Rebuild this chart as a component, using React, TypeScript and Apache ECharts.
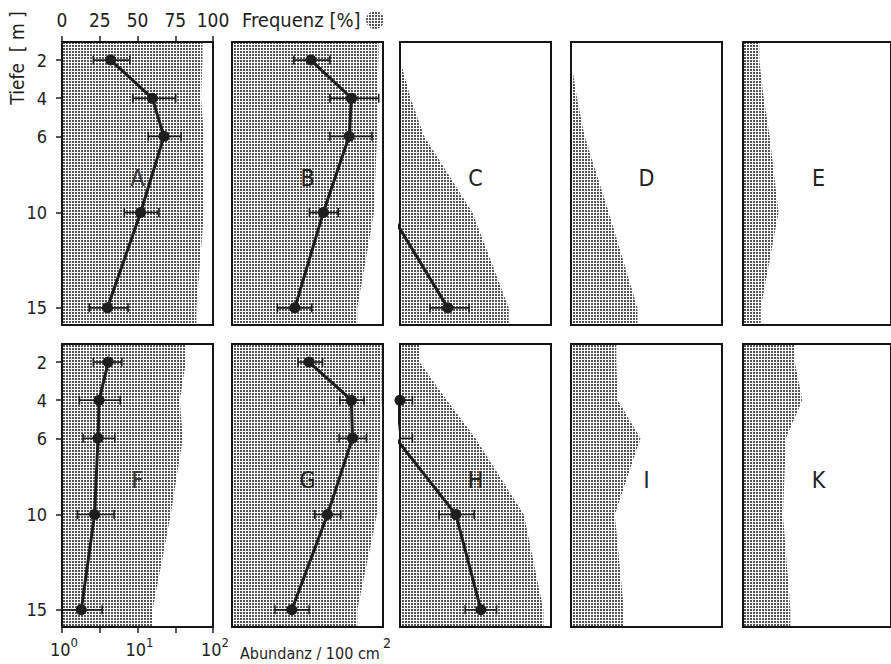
import React, { useEffect, useRef } from 'react';
import * as echarts from 'echarts';

// ---------------- data ----------------
const depths = [2, 4, 6, 10, 15]; // Tiefe [m]
const depthTicks = [2, 4, 6, 10, 15];
const freqTicks = [0, 25, 50, 75, 100];
const abundanceTicks = [1, 10, 100];
const abundanceMinorTicks = [1, 3.1623, 10, 31.623, 100];
const panelLabels = ['A', 'B', 'C', 'D', 'E', 'F', 'G', 'H', 'I', 'K'];

// Frequenz [%] per depth
const freqA = [93, 92, 94, 94, 89];
const freqB = [97, 96, 96, 94, 83];
const freqC = [0, 7, 16, 48, 72];
const freqD = [0, 4, 9, 25, 44];
const freqE = [11, 14, 18, 24, 12];
const freqF = [82, 78, 80, 72, 60];
const freqG = [99, 99, 98, 96, 83];
const freqH = [13, 31, 50, 82, 95];
const freqI = [30, 31, 46, 29, 35];
const freqK = [35, 40, 29, 27, 32];

// Abundanz / 100 cm² (mean, lower and upper error)
const abunA = [4.4, 15.7, 22.4, 11, 4.0];
const lowA = [2.6, 8.7, 13.9, 6.7, 2.3];
const highA = [7.9, 32, 37.8, 19.2, 7.5];
const abunB = [11.1, 38.3, 35.6, 16.2, 6.8];
const lowB = [6.6, 19.8, 19.8, 10.6, 4.0];
const highB = [19.8, 87.7, 71.6, 25.5, 11.4];
const abunC = [null, null, null, 0.74, 4.3];
const lowC = [null, null, null, null, 2.5];
const highC = [null, null, null, null, 8.2];
const abunF = [4.1, 3.1, 3.0, 2.7, 1.8];
const lowF = [2.6, 1.7, 1.9, 1.6, 1.0];
const highF = [6.2, 5.9, 5.0, 4.9, 3.4];
const abunG = [10.5, 38.2, 39.4, 18.4, 6.2];
const lowG = [7.5, 26.8, 26.2, 12.5, 3.7];
const highG = [15.8, 56, 60.3, 27.6, 10.5];
const abunH = [null, 1.0, 0.88, 5.5, 11.8];
const lowH = [null, 0.7, 0.6, 3.3, 7.3];
const highH = [null, 1.46, 1.46, 9.6, 19];

type Panel = {
  label: string;
  freq: number[];
  abun?: (number | null)[];
  low?: (number | null)[];
  high?: (number | null)[];
};

const panels: Panel[] = [
  { label: panelLabels[0], freq: freqA, abun: abunA, low: lowA, high: highA },
  { label: panelLabels[1], freq: freqB, abun: abunB, low: lowB, high: highB },
  { label: panelLabels[2], freq: freqC, abun: abunC, low: lowC, high: highC },
  { label: panelLabels[3], freq: freqD },
  { label: panelLabels[4], freq: freqE },
  { label: panelLabels[5], freq: freqF, abun: abunF, low: lowF, high: highF },
  { label: panelLabels[6], freq: freqG, abun: abunG, low: lowG, high: highG },
  { label: panelLabels[7], freq: freqH, abun: abunH, low: lowH, high: highH },
  { label: panelLabels[8], freq: freqI },
  { label: panelLabels[9], freq: freqK },
];

// ---------------- layout ----------------
const FONT = '"Liberation Sans Narrow", "DejaVu Sans Condensed", Roboto, sans-serif';
const INK = '#1e1e1e';
const COL_LEFTS = [62, 232, 400, 571, 743];
const ROW_TOPS = [42, 344];
const PANEL_W = 151;
const PANEL_H = 283;
const Y_MIN = 1.05;
const Y_MAX = 15.9;
const LETTER_DEPTH = 8.2;

function makeStipple(): string {
  const c = document.createElement('canvas');
  c.width = 3;
  c.height = 3;
  const ctx = c.getContext('2d')!;
  ctx.fillStyle = '#ffffff';
  ctx.fillRect(0, 0, 3, 3);
  ctx.fillStyle = '#555555';
  ctx.fillRect(0, 0, 2, 2);
  return c.toDataURL();
}

export default function App() {
  const ref = useRef<HTMLDivElement>(null);

  useEffect(() => {
    if (!ref.current) return;
    const chart = echarts.init(ref.current, undefined, { renderer: 'svg' });
    const stipple = { image: makeStipple(), repeat: 'repeat', imageWidth: 3, imageHeight: 3 } as any;

    const grids: any[] = [];
    const xAxes: any[] = [];
    const yAxes: any[] = [];
    const series: any[] = [];
    const graphics: any[] = [];

    panels.forEach((p, i) => {
      const row = i < 5 ? 0 : 1;
      const col = i % 5;
      const isTopAxis = i === 0;
      const isBottomAxis = i === 5;
      const isLeftAxis = col === 0;
      const left = COL_LEFTS[col];
      const top = ROW_TOPS[row];

      grids.push({
        left, top, width: PANEL_W, height: PANEL_H,
        show: true, borderColor: '#151515', borderWidth: 2,
        backgroundColor: 'rgba(0,0,0,0)', z: 10,
      });

      xAxes.push({
        gridIndex: i, type: 'value', position: 'top', min: 0, max: 100, interval: 25,
        axisLine: { show: false }, splitLine: { show: false },
        axisTick: { show: isTopAxis, length: 6, lineStyle: { color: INK, width: 1.5 } },
        axisLabel: {
          show: isTopAxis, margin: 12, fontSize: 19, lineHeight: 20, color: INK, fontFamily: FONT,
          customValues: freqTicks,
        },
        z: 11,
      });
      xAxes.push({
        gridIndex: i, type: 'log', logBase: 10, min: 1, max: 100, position: 'bottom',
        axisLine: { show: false }, splitLine: { show: false }, minorTick: { show: false },
        axisTick: {
          show: isBottomAxis, length: 6, lineStyle: { color: INK, width: 1.5 },
          customValues: abundanceMinorTicks,
        },
        axisLabel: {
          show: isBottomAxis, margin: 9, customValues: abundanceTicks,
          formatter: (v: number) => `{b|10}{s|${Math.round(Math.log10(v))}}`,
          rich: {
            b: { fontSize: 18, fontFamily: FONT, color: INK, lineHeight: 22, padding: [0, 0, 0, 4] },
            s: { fontSize: 13, fontFamily: FONT, color: INK, padding: [0, 0, 14, 0] },
          },
        },
        z: 11,
      });
      yAxes.push({
        gridIndex: i, type: 'value', inverse: true, min: Y_MIN, max: Y_MAX,
        axisLine: { show: false }, splitLine: { show: false },
        axisTick: { show: isLeftAxis, length: 6, lineStyle: { color: INK, width: 1.5 }, customValues: depthTicks },
        axisLabel: {
          show: isLeftAxis, margin: 15, fontSize: 18, color: INK, fontFamily: FONT,
          customValues: depthTicks,
        },
        z: 11,
      });

      const freq = p.freq;
      series.push({
        type: 'custom', xAxisIndex: 2 * i, yAxisIndex: i, clip: true, z: 1, silent: true,
        encode: { x: 0, y: 1 },
        data: freq.map((f, k) => [f, depths[k]]),
        renderItem: (params: any, api: any) => {
          if (params.dataIndex !== 0) return null;
          const pts = [
            api.coord([0, Y_MIN]),
            api.coord([freq[0], Y_MIN]),
            ...freq.map((f, k) => api.coord([f, depths[k]])),
            api.coord([freq[freq.length - 1], Y_MAX]),
            api.coord([0, Y_MAX]),
          ];
          return { type: 'polygon', shape: { points: pts }, style: { fill: stipple, stroke: 'none' } };
        },
      });

      if (p.abun) {
        const lineData: any[] = [];
        const errData: any[] = [];
        p.abun.forEach((a, k) => {
          if (a != null) lineData.push([a, depths[k]]);
          const lo = p.low![k];
          const hi = p.high![k];
          if (lo != null && hi != null) errData.push([lo, hi, depths[k]]);
        });
        series.push({
          type: 'custom', xAxisIndex: 2 * i + 1, yAxisIndex: i, clip: true, z: 3, silent: true,
          encode: { x: [0, 1], y: 2 },
          data: errData,
          renderItem: (_params: any, api: any) => {
            const a = api.coord([api.value(0), api.value(2)]);
            const b = api.coord([api.value(1), api.value(2)]);
            const cap = 4.5;
            const st = { stroke: INK, lineWidth: 1.6 };
            return {
              type: 'group',
              children: [
                { type: 'line', shape: { x1: a[0], y1: a[1], x2: b[0], y2: b[1] }, style: st },
                { type: 'line', shape: { x1: a[0], y1: a[1] - cap, x2: a[0], y2: a[1] + cap }, style: st },
                { type: 'line', shape: { x1: b[0], y1: b[1] - cap, x2: b[0], y2: b[1] + cap }, style: st },
              ],
            };
          },
        });
        series.push({
          type: 'line', xAxisIndex: 2 * i + 1, yAxisIndex: i, clip: true, z: 4, silent: true,
          data: lineData,
          symbol: 'circle', symbolSize: 11, showAllSymbol: true,
          itemStyle: { color: INK },
          lineStyle: { color: INK, width: 3 },
        });
      }

      const letterY = top + ((LETTER_DEPTH - Y_MIN) / (Y_MAX - Y_MIN)) * PANEL_H;
      graphics.push({
        type: 'text', x: left + PANEL_W / 2, y: letterY, z: 20,
        style: {
          text: p.label, fontSize: 23, fontFamily: FONT,
          fill: col === 0 ? '#3a3a3a' : '#222',
          align: 'center', verticalAlign: 'middle',
        },
      });
    });

    graphics.push(
      {
        type: 'text', x: 242, y: 20, z: 20,
        style: { text: 'Frequenz [%]', fontSize: 20, fontFamily: FONT, fill: INK, align: 'left', verticalAlign: 'middle' },
      },
      { type: 'circle', shape: { cx: 375, cy: 20, r: 9 }, z: 20, style: { fill: stipple, stroke: 'none' } },
      {
        type: 'text', x: 17, y: 58, rotation: Math.PI / 2, z: 20,
        style: { text: 'Tiefe  [ m ]', fontSize: 19, fontFamily: FONT, fill: INK, align: 'center', verticalAlign: 'middle' },
      },
      {
        type: 'text', x: 240, y: 653, z: 20,
        style: { text: 'Abundanz / 100 cm', fontSize: 16, fontFamily: FONT, fill: INK, align: 'left', verticalAlign: 'middle' },
      },
      {
        type: 'text', x: 383, y: 643, z: 20,
        style: { text: '2', fontSize: 14, fontFamily: FONT, fill: INK, align: 'left', verticalAlign: 'middle' },
      },
    );

    chart.setOption({
      animation: false,
      backgroundColor: '#ffffff',
      grid: grids,
      xAxis: xAxes,
      yAxis: yAxes,
      series,
      graphic: graphics,
    });

    return () => chart.dispose();
  }, []);

  return (
    <div
      ref={ref}
      style={{ position: 'fixed', left: 0, top: 0, width: 891, height: 664, background: '#fff' }}
    />
  );
}
